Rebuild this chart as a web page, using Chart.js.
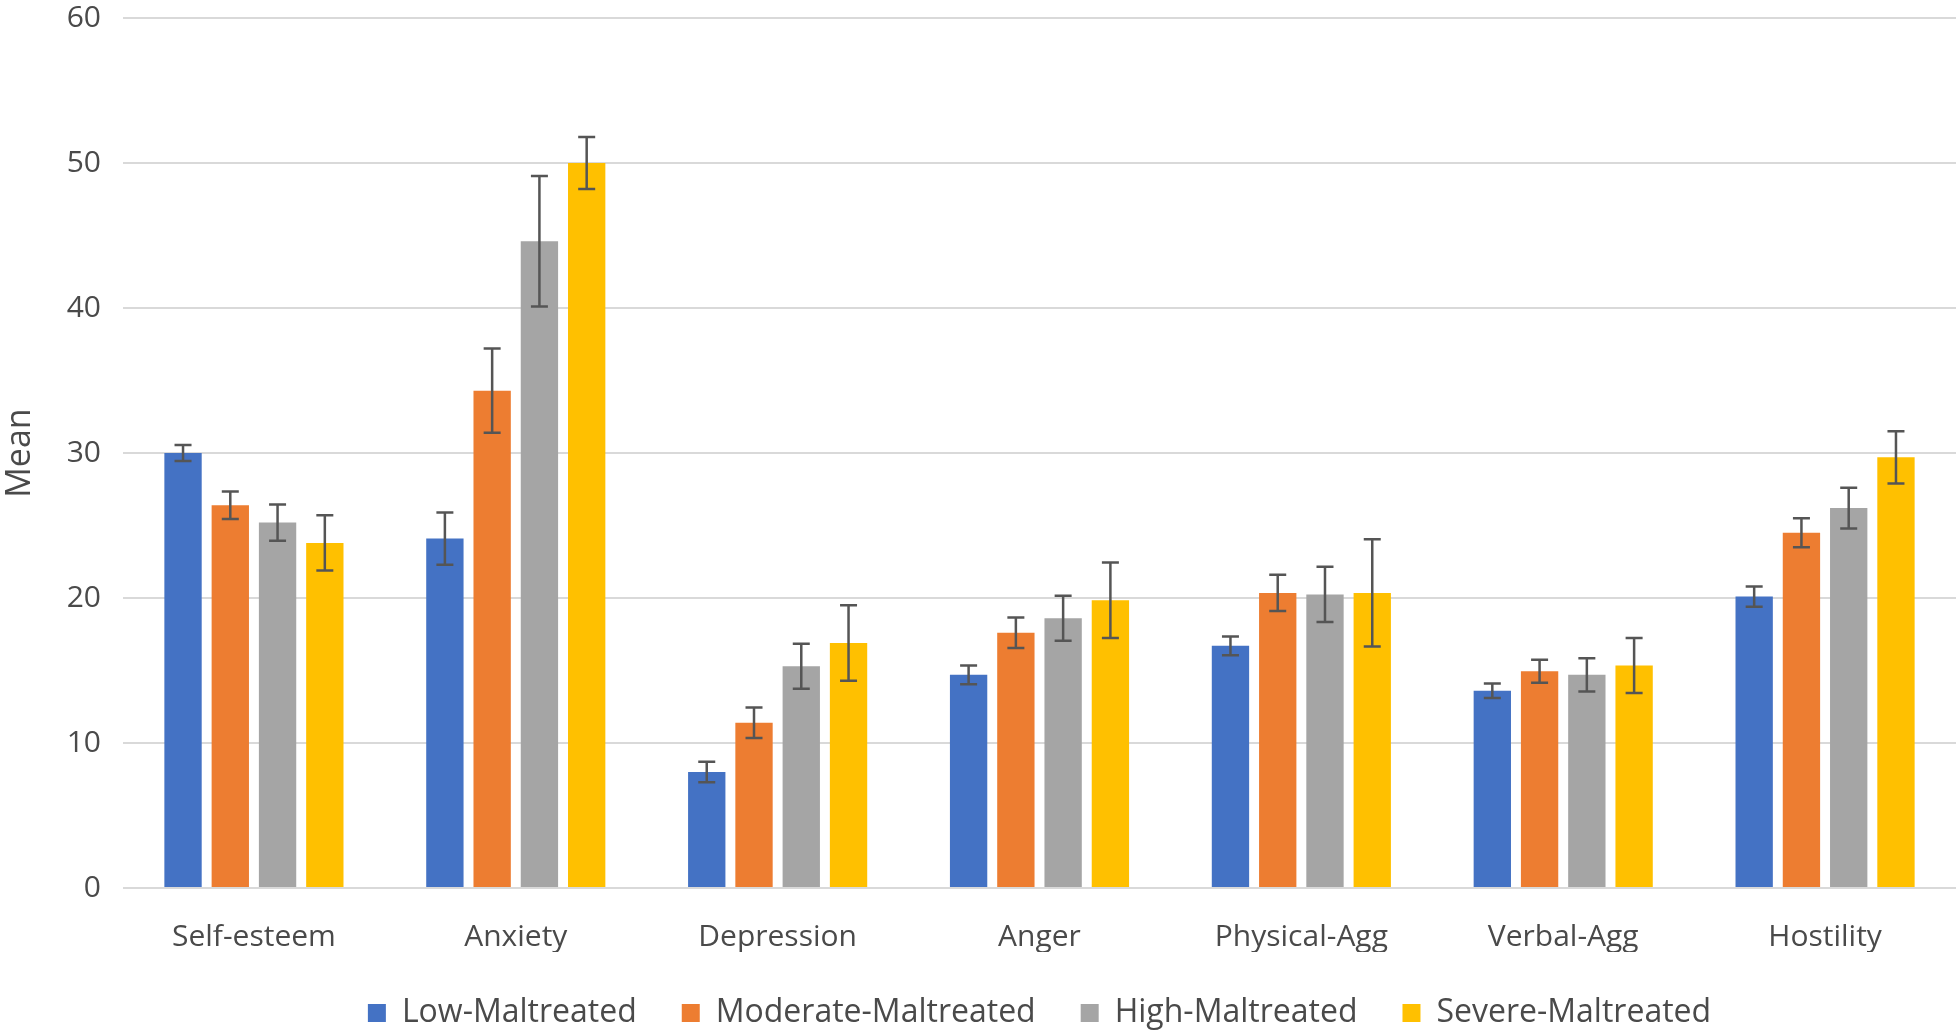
<!DOCTYPE html>
<html>
<head>
<meta charset="utf-8">
<script src="https://cdn.jsdelivr.net/npm/chart.js@4.4.1/dist/chart.umd.min.js"></script>
<style>
  html, body { margin: 0; padding: 0; background: #fff; }
  #wrap { width: 1960px; height: 1034px; position: relative; }
</style>
</head>
<body>
<div id="wrap"><canvas id="chart"></canvas></div>
<script>
// categories and group labels
var categories = ['Self-esteem', 'Anxiety', 'Depression', 'Anger', 'Physical-Agg', 'Verbal-Agg', 'Hostility'];
var groups = ['Low-Maltreated', 'Moderate-Maltreated', 'High-Maltreated', 'Severe-Maltreated'];
var yTicks = [0, 10, 20, 30, 40, 50, 60];

// means
var lowMean = [30.0, 24.1, 8.0, 14.7, 16.7, 13.6, 20.1];
var moderateMean = [26.4, 34.3, 11.4, 17.6, 20.35, 14.95, 24.5];
var highMean = [25.2, 44.6, 15.3, 18.6, 20.25, 14.7, 26.2];
var severeMean = [23.8, 50.0, 16.9, 19.85, 20.35, 15.35, 29.7];

// error bar half-lengths
var lowErr = [0.55, 1.8, 0.7, 0.65, 0.65, 0.5, 0.7];
var moderateErr = [0.95, 2.9, 1.05, 1.05, 1.25, 0.8, 1.0];
var highErr = [1.25, 4.5, 1.55, 1.55, 1.9, 1.15, 1.4];
var severeErr = [1.9, 1.8, 2.6, 2.6, 3.7, 1.9, 1.8];

var colors = ['#4472C4', '#ED7D31', '#A5A5A5', '#FFC000'];
var means = [lowMean, moderateMean, highMean, severeMean];
var errs = [lowErr, moderateErr, highErr, severeErr];

var textColor = '#4a4a4a';
var fontFamily = '"Open Sans", "Noto Sans", sans-serif';

//Draws the whiskers on top of each bar
var errorBars = {
    id: 'errorBars',
    afterDatasetsDraw: function (chart) {
        var ctx = chart.ctx;
        var yScale = chart.scales.y;
        ctx.save();
        ctx.strokeStyle = '#555555';
        ctx.lineWidth = 2.5;
        chart.data.datasets.forEach(function (ds, i) {
            var meta = chart.getDatasetMeta(i);
            meta.data.forEach(function (bar, j) {
                var v = ds.data[j];
                var e = ds.errors[j];
                var top = yScale.getPixelForValue(v + e);
                var bottom = yScale.getPixelForValue(v - e);
                var half = 8.5;
                ctx.beginPath();
                ctx.moveTo(bar.x, top);
                ctx.lineTo(bar.x, bottom);
                ctx.moveTo(bar.x - half, top);
                ctx.lineTo(bar.x + half, top);
                ctx.moveTo(bar.x - half, bottom);
                ctx.lineTo(bar.x + half, bottom);
                ctx.stroke();
            });
        });
        ctx.restore();
    }
};

var datasets = groups.map(function (name, i) {
    return {
        label: name,
        data: means[i],
        errors: errs[i],
        backgroundColor: colors[i],
        borderWidth: 0,
        categoryPercentage: 0.722,
        barPercentage: 0.79
    };
});

var ctx = document.getElementById('chart').getContext('2d');
var chart = new Chart(ctx, {
    type: 'bar',
    data: { labels: categories, datasets: datasets },
    plugins: [errorBars],
    options: {
        responsive: true,
        maintainAspectRatio: false,
        animation: false,
        layout: { padding: { top: 0, right: 4, bottom: -5, left: 0 } },
        plugins: {
            tooltip: { enabled: false },
            legend: {
                position: 'bottom',
                fullSize: false,
                labels: {
                    boxWidth: 18,
                    boxHeight: 18,
                    padding: 45,
                    color: textColor,
                    font: { family: fontFamily, size: 32 }
                }
            }
        },
        scales: {
            x: {
                grid: { display: false },
                border: { display: false },
                ticks: {
                    color: textColor,
                    padding: 23,
                    font: { family: fontFamily, size: 30 }
                },
                afterFit: function (scale) {
                    scale.height = 64;
                }
            },
            y: {
                min: 0,
                max: 60,
                afterBuildTicks: function (scale) {
                    scale.ticks = yTicks.map(function (v) { return { value: v }; });
                },
                // invisible tick marks hold the labels away from the plot
                grid: { color: '#d9d9d9', lineWidth: 2, drawTicks: true, tickLength: 22, tickColor: 'rgba(0,0,0,0)' },
                border: { display: false },
                ticks: {
                    color: textColor,
                    padding: 0,
                    font: { family: fontFamily, size: 30 }
                },
                title: {
                    display: true,
                    text: 'Mean',
                    color: textColor,
                    padding: { top: 0, bottom: 4 },
                    font: { family: fontFamily, size: 34 }
                },
                afterFit: function (scale) {
                    scale.width = 123;
                }
            }
        }
    }
});
</script>
</body>
</html>
